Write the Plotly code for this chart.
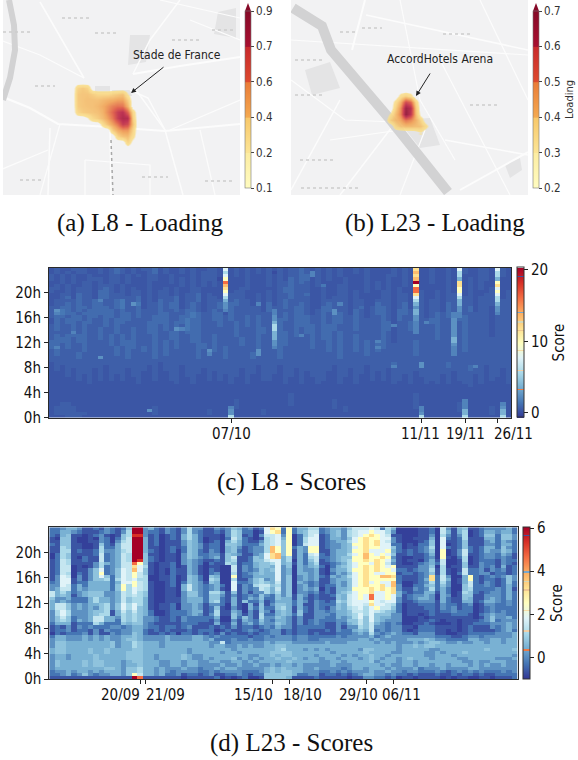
import numpy as np
import plotly.graph_objects as go

W, H = 578, 760
NARROW = "Liberation Sans Narrow, DejaVu Sans Condensed, Arial Narrow, sans-serif"
SERIF = "Liberation Serif, DejaVu Serif, serif"

# ---------- score matrices (top row = 23:30, half-hour bins; codes index the level lists)
D_LEVELS = [-0.89, -0.65, -0.30, 0.06, 0.48, 0.76, 1.12, 1.47, 1.82, 2.53, 3.23, 3.72, 4.64, 5.35, 6.05]
C_LEVELS = [0.10, 0.42, 0.73, 1.15, 1.57, 2.0, 2.51, 3.77, 5.65, 7.74, 9.83, 11.93, 13.4, 16.1, 18.2, 20.3]

d_rows = """
223443112132125 ee 342132136331 1323542312 8a92924466 23443577 787264 000011 2073145112333342
224432111232136 ee 322132136321 1213652201 89a2924577 23453678 898863 000011 2074146012443442
214511012310156 dd 312012146421 1103651203 7783902578 12453678 9a9871 100011 3063136012552553
105510010320257 ee 412012146420 1102752101 6784902688 12443589 a99883 100111 4082126111442553
115510011320367 ee 412011135420 1204642113 6785902688 12344689 a9a873 100012 5081125111342432
215511001521477 ee 412011135431 2205542224 6785902788 12334599 a9a882 201022 5080125111332442
116511001622477 ee 411012125431 2204531233 6b95924399 12334589 a99885 201123 6082125212442532
116612112633467 ee 421012025421 3204521233 6b95914399 11344599 a88894 212123 5090137212433542
026511112723476 ee 511011035422 3315431134 8ab5914278 21344689 b98985 112112 4090137112332431
026510211723476 ee 521011035432 3415711254 8ab4614267 22345599 b99a93 100112 3091026012332321
127611211723476 ed 521011034321 1215611255 7884604257 12345699 a9a984 101102 4170016012221322
127611113643477 c9 510112034320 2116512245 5684514246 11234689 98a973 100123 4270015013221321
127701013623477 a8 610112014310 1100713245 5483504345 20245689 a9a989 111133 5060115113231412
127701135823587 b8 510102114310 2100713235 4583404334 10344699 a9a998 221233 6161017223132312
127602135923587 97 510102114310 2300612345 4483404434 10243589 a98899 122123 5161027223312212
138703135852587 97 600112015420 5400912244 4483503434 21434689 a99bba 211123 a273004921232353
138813135562687 86 600112015420 6500611356 3483503434 11344589 a99999 211124 a274014921221253
238812244442488 97 610012025431 5400822356 5473504323 11343589 a8988b 200123 6263014721321252
338724244442596 97 610012047432 3420813267 7563503423 12243589 a99a8b 300224 5253005722321242
347724344442596 87 610011047432 3410813237 6473503434 02144599 9a9a9a 311323 6242005622223241
746423455533476 86 510011035532 6641513133 6463503323 12145689 9a889a 421224 4142016521233242
745413455533476 76 510011035532 5531312325 3253514312 11254789 8c8898 412334 3043015511333242
533422246443475 66 410011134442 5521412435 2254414212 11154789 8c8898 312344 3042115411343242
434322246443475 66 410011134442 5621415224 1244424313 21265788 898788 311233 3142114412443232
477534344563586 86 410112033431 3320410415 1355424113 22254788 7a8876 201122 2132212301332232
477534343563586 85 410112033431 2510310425 2256414213 21354678 689775 201112 2132312201232222
368633345561475 75 420012223441 2611430315 3145415213 32344577 687654 201111 2122322201232322
368633345661465 65 420012223431 3611531316 2245425113 33244568 685553 301101 2111222102343322
357523347744365 65 332112132222 2400525316 3354313113 32243468 585443 300010 1111111101353342
356524347744265 65 332112132222 1300314325 3244313123 22233557 585433 300011 2101101112352333
244412226422254 55 321111122211 1411413424 3354313123 21132457 574323 200112 1000101122233343
121313232223323 44 322122123111 2121312212 3243312222 21131336 573323 311022 2111101211132343
122312213132233 44 212121112122 2012112321 2331212211 12132245 472323 310122 2110101211112342
021222313113233 54 211212022121 2131211212 2331212212 11122234 363234 322133 3110011222223334
244333434343344 54 333343333443 2322222122 3233323322 22232333 342343 333333 3222112332333334
344333434343345 54 333343333443 4222322322 3333323322 33333334 434333 334445 4332222443344344
355444444445344 65 444344444444 3372333333 4344433333 34333444 443434 333434 5543343344344344
355444444445344 65 444344444444 3443343433 4455444444 44444444 444444 344545 5444444444444444
455444454454444 55 444444443444 4444344444 4456444343 43444443 554444 344444 3344444444544445
455444454454445 55 444444443444 4434434444 4555544444 44344444 544443 344443 3434445444444444
344344445444445 55 443444454334 4444444334 4545544443 44443434 454434 444443 3444344444444443
344344445444445 55 443444454334 3444534343 4454454344 34434443 454344 345444 3444433444443334
354444545544434 55 444334434433 4433443434 4444544444 33443444 453444 344344 4444443343344433
354444545544434 45 444334434433 3343343343 3434434333 33433344 444343 344344 3443444343433433
344444444455435 56 443433343323 3434433333 4545444334 33332344 344434 333423 3343333443333333
233434434344435 56 443432333322 3233332223 4545544333 22323233 343343 323322 2321232323222323
223423532334435 97 443422312212 3112232122 5555542233 12212123 443323 221211 1211212212112222
111111111111111 ec 111111101111 1201012001 5555411112 11111011 332212 011011 1101011001101112
""".strip().splitlines()
D_GROUPS = [15, 2, 12, 10, 10, 8, 6, 6, 16]

c_rows = """
1211222112 1232121223 1211212112 2111212121 2121223212 1212112121 1112121211 2112122112 21121
1212122112 1232121123 1211212122 2111212121 2021223212 1212112121 1112121211 2112122112 21121
2121211211 1221212122 1121112122 2111212111 2121223312 1212111121 1122121111 2112121112 21121
2121211222 1221211122 1121212122 2011112111 2121323312 1211211121 1121121111 2112121212 21111
1121212212 1221211121 1121212121 2111112111 2122323212 1111211121 2121121211 2112111212 11211
1212112212 2212111121 1111212121 2121112111 2122322212 1112211121 2121121211 1112111212 11211
2212122212 3212121121 1212112211 1121122111 1123322211 2112211121 2121211211 1112121212 12211
2112122213 3212122121 2212112211 1121221111 2123322211 2112212121 1221211221 1212121211 12212
1122132213 3222122121 2212122312 1112221121 2122322311 2112212111 1221221221 1212221211 22212
1123132213 3222223121 2223122312 2112221121 2122322211 2122212111 1221221221 1212222212 22212
1222232232 2234223121 3223122312 2212322121 2123222211 2222212211 2221221221 2212222212 22222
1223232233 2234224122 3233123212 2313322121 3123223211 2322212211 3221231221 2213222212 22222
2233233233 3234223122 3233123212 2313222221 3223233211 3322212312 3321231321 2213222312 21222
2343232333 3323223222 3223233212 3213222221 3222233212 3332213212 3321332321 2213232312 21222
2343323333 3323323222 3322234322 3313222222 2323233212 3233213212 3321332321 2323232222 21222
2332332332 3323323223 3322334322 3323223232 2323233322 3233223212 2321322321 2323233222 21222
1323332322 3233322223 3322343322 3323223232 2333233322 3233223222 2321322322 3322233222 21222
1323323322 3233222233 3323343322 2322323232 2332233322 3233223222 2331223322 3322223222 21222
2322323222 3232222233 2323243322 2322323232 2332233332 3332223222 2331223322 2322223222 21222
2322323223 2232232233 2323243322 2222322233 2332232332 3332223222 2331223222 2322223222 21222
2222323223 2232232233 2233233322 2222322233 2333232332 3323222222 2321222222 2322223222 21222
2323333223 2323232223 2233223322 3222322232 2333232232 3323223222 2321222222 2322223222 21222
2333233223 2323232223 2233223322 3222232232 2333222232 3323223222 2321222222 2322223222 22222
3333233222 2323332223 2323223322 3222232232 2233222232 2323223232 2321222322 2222223222 22222
3323223222 2323332223 2323222332 3222232232 2233222232 2323223232 3322222322 2222223222 22222
3323223222 2232332323 2323222332 3232222232 2232222232 2323223232 3322222322 2222223222 22222
2322223222 2232322323 2322222322 3232222232 2232222222 2323223232 3222222322 2222223222 22222
2322232222 2232322223 2322222322 2232222322 2232222222 2223222232 2222222322 2222222222 22222
2222232222 2222322223 2222222322 2232222322 2232222222 2223222222 2222222222 2222222222 22222
2222222222 2222222222 2222222222 2222222222 2222222222 2222222222 2222222222 2222222222 22222
1222222222 2222222222 1222222222 2222222222 2222222222 2222222222 2223222222 2223222222 22222
1212222222 1222222212 1222122222 2222222212 2212222222 2212222212 2223222222 2223222322 12222
1212122212 1222122212 1222122212 2222212212 2212212222 2212212212 2212222222 2222222322 12212
1112122212 1222122112 1122122212 1222212212 2212212122 2112212212 1212222122 2222122222 12212
1112121212 1212122112 1122122112 1212212112 2112212122 2112212112 1212212122 2212122212 12212
1111121212 1212112112 1122112112 1212112112 2112112112 2112112112 1212212112 2212122212 12112
1111111211 1111112111 1112112111 1112112111 1112112112 1112112111 1112112112 1212112212 11112
1111111111 1111111111 1111111111 1111111111 1111111111 1111111111 1111111111 1111111211 11111
1111111111 1111111111 1111111111 1111111111 1111111111 1111111111 1111111111 1111111111 11111
1111111111 1111111111 1111111111 1111111111 1111111111 1111111111 1111111111 1111111111 11111
1111111111 1111111111 1111111111 1111111111 1111211111 1111111111 1111111211 1111111111 11111
1111111111 1111111111 1111111111 1111111111 1111211111 1111111111 1111111211 1111111111 11111
1111111111 1111111111 1111111111 1111211111 1111211111 1121111111 1111111211 1111111111 11111
1122111111 1111111111 1111111111 1111211111 1111211111 1121111111 1111111211 1111121111 11111
1222211111 1111111112 1111111111 1111211111 1111111111 1121211111 1111111211 1111121111 12111
1222211111 1111111112 1111111112 1111111112 1111111111 1111211111 1111111111 1111121111 12111
1222222111 1111111112 1111111112 1111111112 1111111111 1111111111 1111111111 1111111111 12111
1112221111 1111111111 1111111111 1111111111 1111111111 1111111111 1111111111 1111111111 11111
""".strip().splitlines()

# Streak columns: {column: (first row from top, codes going down)}
c_columns = {
    32: (0, "989adcba98766 5"),
    33: (44, "5668"),
    41: (13, "5566788777665"),
    67: (0, "bcbcfaddb98767766 5555"),
    68: (44, "5568"),
    74: (14, "55666666776555"),
    75: (0, "98 87bbaa98776655"),
    76: (42, "555778"),
    82: (0, "9887ab9a9887665"),
    83: (43, "56778"),
}
# Isolated bright cells: (column, row from top, code)
c_spots = [(1, 13, 6), (1, 14, 5), (4, 20, 5), (15, 11, 6), (9, 10, 5), (9, 28, 6), (1, 25, 5),
           (18, 45, 6), (29, 26, 6), (29, 27, 5), (38, 26, 6), (38, 27, 6), (38, 11, 5), (23, 19, 6),
           (24, 19, 5), (46, 21, 5), (52, 13, 6), (52, 14, 6), (53, 11, 5), (50, 5, 4), (48, 1, 5),
           (48, 2, 5), (60, 23, 5), (60, 25, 5), (63, 18, 5), (63, 31, 5), (69, 17, 5), (68, 30, 6),
           (68, 31, 6), (78, 31, 5)]

hours_ticks = [0, 4, 8, 12, 16, 20]
hour_labels = ["0h", "4h", "8h", "12h", "16h", "20h"]

c_tick_cols = [33.5, 68.5, 76.5, 82.5]
c_tick_labels = ["07/10", "11/11", "19/11", "26/11"]
c_label_px = [231.5, 421, 465, 513]
d_tick_cols = [16.5, 17.5, 40.5, 43.5, 57.5, 62.5]
d_tick_labels = ["20/09", "21/09", "15/10", "18/10", "29/10", "06/11"]
d_label_px = [120, 165, 253.5, 302, 358, 401]

# ---------- loading fields on the maps (pixel-grid sample points of each basemap)
a_grid_x = [72, 77, 82, 87, 92, 97, 102, 107, 112, 117, 122, 127, 132, 137]
a_grid_y = [82, 88, 94, 100, 106, 112, 118, 124, 130, 136, 142, 148]
a_loading = [
    [0, 0, 0, 0, 0, 0, 0, 0, 0, 0, 0, 0, 0, 0],
    [0, .22, .26, .22, 0, 0, 0, 0, 0, 0, 0, 0, 0, 0],
    [0, .26, .28, .28, .24, .20, .20, .20, .22, .25, .28, .15, 0, 0],
    [0, .26, .28, .30, .30, .30, .33, .36, .38, .42, .42, .25, 0, 0],
    [0, .25, .28, .29, .30, .33, .38, .45, .52, .56, .55, .35, .05, 0],
    [0, .20, .25, .27, .28, .30, .36, .48, .60, .68, .72, .60, .20, 0],
    [0, 0, .10, .14, .20, .25, .32, .42, .55, .68, .78, .75, .25, 0],
    [0, 0, 0, 0, 0, 0, .18, .30, .42, .55, .68, .65, .30, 0],
    [0, 0, 0, 0, 0, 0, 0, .10, .25, .38, .45, .45, .22, 0],
    [0, 0, 0, 0, 0, 0, 0, 0, 0, .22, .30, .32, .18, 0],
    [0, 0, 0, 0, 0, 0, 0, 0, 0, 0, .10, .22, .12, 0],
    [0, 0, 0, 0, 0, 0, 0, 0, 0, 0, 0, 0, 0, 0],
]
b_grid_x = [385, 390, 395, 400, 405, 410, 415, 420, 425, 430]
b_grid_y = [90, 96, 102, 108, 114, 120, 126, 132]
b_loading = [
    [0, 0, 0, 0, 0, 0, 0, 0, 0, 0],
    [0, 0, 0, .28, .32, .28, 0, 0, 0, 0],
    [0, 0, .28, .38, .55, .50, .30, 0, 0, 0],
    [0, 0, .32, .44, .68, .62, .34, 0, 0, 0],
    [0, .26, .36, .45, .70, .60, .36, .22, 0, 0],
    [.22, .32, .36, .40, .47, .44, .38, .30, .18, 0],
    [0, .20, .30, .34, .36, .36, .35, .34, .28, 0],
    [0, 0, 0, 0, .15, .20, .22, .25, .18, 0],
]
a_ticks = [0.1, 0.2, 0.4, 0.6, 0.7, 0.9]
b_ticks = [0.2, 0.3, 0.4, 0.5, 0.6, 0.7]

# ---------- basemap geometry
a_rivers = [[(9, 0), (14, 25), (15, 50), (10, 78), (3, 100)]]
a_roads = [
    ([(3, 97), (30, 108), (58, 124), (110, 127), (165, 131), (240, 124)], 2.2),
    ([(40, 2), (62, 40), (84, 78)], 1.6), ([(133, 74), (180, 66), (240, 57)], 2),
    ([(136, 90), (165, 130), (183, 195)], 1.5), ([(50, 128), (48, 195)], 1.5),
    ([(130, 90), (148, 98), (165, 130)], 1.5), ([(0, 40), (40, 55), (84, 78)], 1.2),
    ([(60, 124), (40, 195)], 1.2), ([(170, 130), (240, 100)], 1.2),
    ([(85, 160), (150, 165), (150, 195)], 1.2), ([(180, 0), (150, 40), (133, 74)], 1.5),
    ([(85, 160), (85, 195)], 1.2), ([(0, 170), (48, 150)], 1.2), ([(190, 20), (240, 40)], 1.2),
    ([(160, 0), (240, 18)], 1.2), ([(110, 127), (111, 195)], 1.5), ([(200, 130), (215, 195)], 1.2),
]
a_blocks = [[(130, 35), (150, 35), (146, 62), (128, 65)], [(218, 12), (236, 8), (236, 38), (214, 34)],
            [(95, 86), (110, 86), (110, 93), (95, 93)], [(112, 90), (130, 90), (132, 96), (112, 96)]]
b_rivers = [[(293, 8), (322, 26), (331, 50), (388, 117), (448, 192)]]
b_roads = [
    ([(291, 80), (345, 120), (395, 122)], 1.2), ([(365, 0), (352, 50)], 2), ([(366, 15), (528, 50)], 1.5),
    ([(291, 40), (528, 55)], 1.2), ([(340, 100), (291, 190)], 1.5), ([(395, 123), (340, 195)], 1.5),
    ([(440, 60), (510, 195)], 1.2), ([(445, 140), (528, 155)], 1.5), ([(460, 190), (528, 152)], 2),
    ([(420, 100), (455, 160)], 1.2), ([(425, 130), (400, 195)], 1.2), ([(400, 0), (420, 100)], 1.2),
    ([(305, 20), (292, 10)], 1.5), ([(480, 0), (528, 100)], 1.2), ([(330, 140), (400, 130)], 1.2),
]
b_blocks = [[(305, 70), (330, 62), (340, 88), (312, 95)], [(505, 165), (520, 158), (522, 170), (510, 178)],
            [(398, 120), (430, 118), (440, 145), (420, 148)]]
a_label_marks = [(62, 18, 30), (95, 33, 24), (3, 32, 28), (172, 40, 28), (35, 86, 20), (212, 30, 22), (142, 177, 26),
                 (205, 181, 30), (20, 180, 24)]
b_label_marks = [(295, 60, 30), (362, 28, 20), (443, 34, 30), (295, 95, 30), (470, 105, 28), (300, 160, 34),
                 (301, 188, 60), (340, 32, 18)]

# ---------- colours
BASE = ["#313695", "#4575b4", "#74add1", "#abd9e9", "#e0f3f8", "#ffffbf", "#fee090", "#fdae61", "#f46d43", "#d73027", "#a50026"]
BANDS = [(.19, "#ee7a45"), (.315, "#f2cfa6"), (.449, "#f7dca6"), (.585, "#efc690"), (.64, "#d5d8b8"), (.705, "#78a8cc"), (.943, "#41509c")]


def hx(c):
    return np.array([int(c[i:i + 2], 16) for i in (1, 3, 5)], float)


def base_at(t):
    p = t * (len(BASE) - 1)
    i = min(int(p), len(BASE) - 2)
    mix = hx(BASE[i]) * (1 - (p - i)) + hx(BASE[i + 1]) * (p - i)
    return "rgb(%d,%d,%d)" % tuple(mix)


def score_scale():
    stops = [(i / 10, c) for i, c in enumerate(BASE)]
    w = 0.0045
    out = []
    for t, c in stops:
        out.append((t, c))
    for t, c in BANDS:
        out = [s for s in out if not (t - w <= s[0] <= t + w)]
        out += [(t - w - 1e-4, base_at(t - w)), (t - w, c), (t + w, c), (t + w + 1e-4, base_at(t + w))]
    return [list(s) for s in sorted(out, key=lambda s: s[0])]


SCORE_SCALE = score_scale()
BAR_SCALE = [[0, "#fffcc0"], [.195, "#fdeda2"], [.2, "#fce596"], [.395, "#f8c86a"], [.4, "#f4a950"], [.595, "#ea7c38"],
             [.6, "#dd4a2e"], [.795, "#c92a2c"], [.8, "#a81030"], [1, "#860a28"]]
HEAT_SCALE = [[0, "rgba(250,225,140,0)"], [.07, "rgba(250,225,140,0)"], [.11, "rgba(250,222,135,.85)"],
              [.2, "rgba(248,212,125,.88)"], [.4, "rgba(240,160,82,.9)"], [.6, "rgba(222,85,62,.9)"],
              [.8, "rgba(185,32,66,.9)"], [1, "rgba(140,10,44,.9)"]]


def decode_d():
    out = []
    for line in d_rows:
        parts = line.split()
        row = ""
        for p, n in zip(parts, D_GROUPS):
            row += (p + p[-1] * n)[:n]
        out.append([D_LEVELS[int(ch, 16)] for ch in row])
    return out


def decode_c():
    codes = []
    for line in c_rows:
        s = line.replace(" ", "")
        s = (s + s[-1] * 85)[:85]
        codes.append([int(ch, 16) for ch in s])
    for col, (start, text) in c_columns.items():
        for k, ch in enumerate(text.replace(" ", "")):
            codes[start + k][col] = int(ch, 16)
    for col, r, v in c_spots:
        codes[r][col] = v
    return [[C_LEVELS[v] for v in row] for row in codes]


fx = lambda px: px / W
fy = lambda py: 1 - py / H

fig = go.Figure()

# axes
axis_off = dict(visible=False, fixedrange=True)
layout_axes = dict(
    xaxis=dict(domain=[fx(3), fx(240)], range=[3, 240], anchor="y", **axis_off),
    yaxis=dict(domain=[fy(195), fy(0)], range=[195, 0], anchor="x", **axis_off),
    xaxis2=dict(domain=[fx(291), fx(528)], range=[291, 528], anchor="y2", **axis_off),
    yaxis2=dict(domain=[fy(195), fy(0)], range=[195, 0], anchor="x2", **axis_off),
)


def heat_axis(left, right, top, bottom, n, ticks):
    xa = dict(domain=[fx(left), fx(right)], range=[0, 85], anchor="y" + n, showline=True, mirror=True, linecolor="#2a2a2a",
              linewidth=1, ticks="outside", ticklen=4, tickcolor="#222", tickvals=ticks, showticklabels=False,
              showgrid=False, zeroline=False)
    ya = dict(domain=[fy(bottom), fy(top)], range=[0, 24], anchor="x" + n, showline=True, mirror=True, linecolor="#2a2a2a",
              linewidth=1, ticks="outside", ticklen=4, tickcolor="#222", tickvals=hours_ticks, ticktext=hour_labels,
              tickfont=dict(family=NARROW, size=15, color="#111"), showgrid=False, zeroline=False)
    return xa, ya


layout_axes["xaxis3"], layout_axes["yaxis3"] = heat_axis(49, 511.3, 268, 417.5, "3", c_tick_cols)
layout_axes["xaxis4"], layout_axes["yaxis4"] = heat_axis(49.3, 517.7, 527.3, 679, "4", d_tick_cols)

# map loadings
for xs, ys, zs, ticks, xa, ya in [(a_grid_x, a_grid_y, a_loading, a_ticks, "x", "y"),
                                  (b_grid_x, b_grid_y, b_loading, b_ticks, "x2", "y2")]:
    lv = np.interp(np.array(zs, float), ticks, range(6))
    lv[np.array(zs, float) < ticks[0] * 0.9] = 0
    fig.add_trace(go.Heatmap(x=xs, y=ys, z=lv.tolist(), zmin=0, zmax=5, colorscale=HEAT_SCALE, showscale=False,
                             zsmooth="best", xaxis=xa, yaxis=ya, hoverinfo="skip"))


def map_bar(ticks, xa, ya, left, title=None):
    cb = dict(
        x=fx(left), xanchor="left", xref="paper", y=fy(188), yanchor="bottom", yref="paper", len=177 / H, lenmode="fraction",
        thickness=5.5, thicknessmode="pixels", xpad=0, ypad=0, outlinewidth=0.6, outlinecolor="#777",
        tickvals=list(range(6)), ticktext=[f"{t:g}" for t in ticks], ticks="outside", ticklen=3, tickcolor="#444",
        tickfont=dict(family=NARROW, size=11.5, color="#333"))
    if title:
        cb["title"] = dict(text=title, side="right", font=dict(family=NARROW, size=11, color="#333"))
    fig.add_trace(go.Scatter(x=[-50], y=[-50], mode="markers", xaxis=xa, yaxis=ya, hoverinfo="skip", showlegend=False,
                             marker=dict(size=1, opacity=0, color=[0], cmin=0, cmax=5, colorscale=BAR_SCALE, showscale=True, colorbar=cb)))


map_bar(a_ticks, "x", "y", 245)
map_bar(b_ticks, "x2", "y2", 533, "Loading")

# score heatmaps
col_centres = [i + 0.5 for i in range(85)]
row_centres = [23.75 - 0.5 * r for r in range(48)]


def score_bar(left, top, bottom, vals, labels):
    return dict(x=fx(left), xanchor="left", xref="paper", y=fy(bottom), yanchor="bottom", yref="paper",
                len=(bottom - top) / H, lenmode="fraction", thickness=6.5, thicknessmode="pixels", xpad=0, ypad=0,
                outlinewidth=1, outlinecolor="#333", tickvals=vals, ticktext=labels, ticks="outside", ticklen=4,
                tickcolor="#222", tickfont=dict(family=NARROW, size=15, color="#111"),
                title=dict(text="Score", side="right", font=dict(family=NARROW, size=15, color="#111")))


fig.add_trace(go.Heatmap(x=col_centres, y=row_centres, z=decode_c(), zmin=-0.63, zmax=20.3, colorscale=SCORE_SCALE,
                         xaxis="x3", yaxis="y3", colorbar=score_bar(516.7, 268, 417.5, [0, 10, 20], ["0", "10", "20"])))
fig.add_trace(go.Heatmap(x=col_centres, y=row_centres, z=decode_d(), zmin=-1, zmax=6.05, colorscale=SCORE_SCALE,
                         xaxis="x4", yaxis="y4", colorbar=score_bar(523, 527.3, 679, [0, 2, 4, 6], ["0", "2", "4", "6"])))

# basemap shapes (below the heatmaps)
shapes = []


def poly_path(pts, close=False):
    p = "M " + " L ".join(f"{x},{y}" for x, y in pts)
    return p + (" Z" if close else "")


for xr, yr, rivers, rwidth, roads, blocks, marks in [
    ("x", "y", a_rivers, 6, a_roads, a_blocks, a_label_marks),
    ("x2", "y2", b_rivers, 10, b_roads, b_blocks, b_label_marks),
]:
    for pts in blocks:
        shapes.append(dict(type="path", path=poly_path(pts, True), xref=xr, yref=yr, layer="below",
                           fillcolor="#e4e4e5", line=dict(width=0)))
    for pts, w in roads:
        shapes.append(dict(type="path", path=poly_path(pts), xref=xr, yref=yr, layer="below",
                           fillcolor="rgba(0,0,0,0)", line=dict(color="#fcfcfc", width=w)))
    for pts in rivers:
        shapes.append(dict(type="path", path=poly_path(pts), xref=xr, yref=yr, layer="below",
                           fillcolor="rgba(0,0,0,0)", line=dict(color="#d2d2d3", width=rwidth)))
    for x0, y0, ln in marks:
        shapes.append(dict(type="line", x0=x0, x1=x0 + ln, y0=y0, y1=y0, xref=xr, yref=yr, layer="below",
                           line=dict(color="#cdcdcd", width=1.5, dash="dot")))

# dotted line south of the stadium
shapes.append(dict(type="line", x0=111, x1=113, y0=140, y1=195, xref="x", yref="y", layer="below",
                   line=dict(color="#a8a8a8", width=1.5, dash="dot")))

# colour-bar extension arrows
for cx in (248, 536):
    shapes.append(dict(type="path", path=f"M {fx(cx-3)},{fy(11)} L {fx(cx)},{fy(3)} L {fx(cx+3)},{fy(11)} Z",
                       xref="paper", yref="paper", fillcolor="#860a28", line=dict(width=0), layer="above"))

annotations = []


def text(px, py, s, family=NARROW, size=15, color="#111", xanchor="center"):
    annotations.append(dict(x=fx(px), y=fy(py), xref="paper", yref="paper", text=s, showarrow=False, xanchor=xanchor,
                            yanchor="middle", font=dict(family=family, size=size, color=color)))


for px, s in zip(c_label_px, c_tick_labels):
    text(px, 433.5, s)
for px, s in zip(d_label_px, d_tick_labels):
    text(px, 695, s)
text(140, 223, "(a) L8 - Loading", SERIF, 25)
text(435, 223, "(b) L23 - Loading", SERIF, 25)
text(291, 482, "(c) L8 - Scores", SERIF, 25)
text(291, 743, "(d) L23 - Scores", SERIF, 25)
text(177, 55, "Stade de France", size=12, color="#222")
text(440, 59, "AccordHotels Arena", size=12, color="#222")

for (x0, y0, x1, y1, xr, yr) in [(165, 66, 131, 93, "x", "y"), (431, 72, 416, 96, "x2", "y2")]:
    annotations.append(dict(x=x1, y=y1, ax=x0, ay=y0, xref=xr, yref=yr, axref=xr, ayref=yr, text="", showarrow=True,
                            arrowhead=2, arrowsize=1, arrowwidth=1, arrowcolor="#222"))

fig.update_layout(width=W, height=H, margin=dict(l=0, r=0, t=0, b=0, autoexpand=False), paper_bgcolor="white",
                  plot_bgcolor="#f2f2f3", showlegend=False, shapes=shapes, annotations=annotations, **layout_axes)

fig.write_html("out.html", config={"displayModeBar": False},
               post_script="document.body.style.margin='0';document.body.style.overflow='hidden';")
